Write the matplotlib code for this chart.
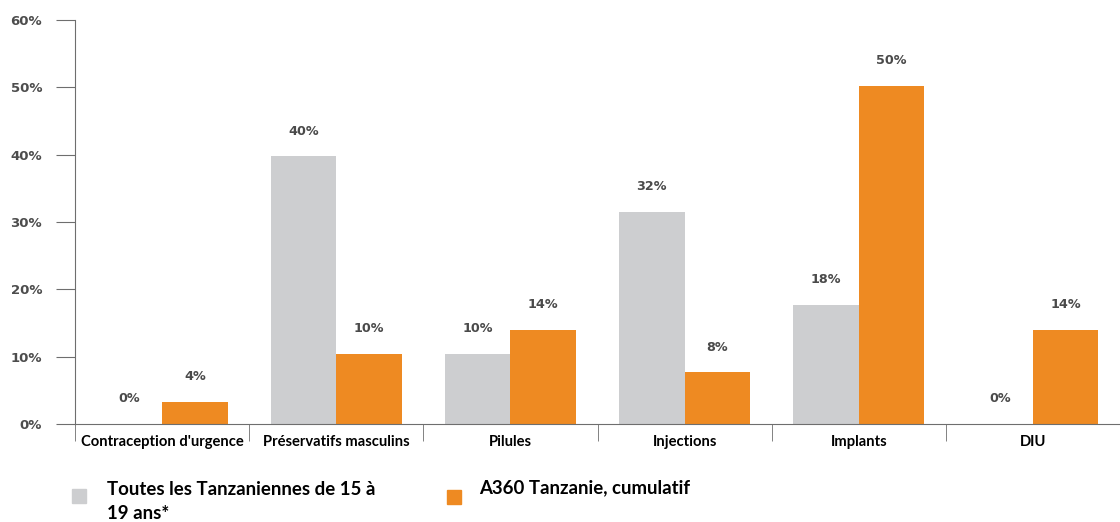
import numpy as np
import matplotlib
matplotlib.use("Agg")
import matplotlib.pyplot as plt
from matplotlib.patches import Rectangle

categories = ["Contraception d'urgence", "Préservatifs masculins", "Pilules",
              "Injections", "Implants", "DIU"]
toutes = [0, 39.8, 10.4, 31.5, 17.7, 0]
a360 = [3.3, 10.4, 14, 7.7, 50.2, 14]
toutes_labels = ["0%", "40%", "10%", "32%", "18%", "0%"]
a360_labels = ["4%", "10%", "14%", "8%", "50%", "14%"]
yticks = [0, 10, 20, 30, 40, 50, 60]

GRIS = "#cdced0"
ORANGE = "#ee8a22"
AXE = "#6e6e6e"

W, H = 1120, 522
fig = plt.figure(figsize=(W / 100, H / 100), dpi=100)
ax = fig.add_axes([75 / W, 1 - 424 / H, 1 - 75 / W, (424 - 20) / H])

x = np.arange(len(categories))
bw = 0.376
ax.bar(x - bw / 2, toutes, bw, color=GRIS)
ax.bar(x + bw / 2, a360, bw, color=ORANGE)

# etiquettes au-dessus des barres
off = 25 * 60 / 404
for i in range(len(categories)):
    ax.text(x[i] - bw / 2, toutes[i] + off, toutes_labels[i], ha="center", va="center",
            fontsize=9.2, fontweight="bold", color="#4a4a4a")
    ax.text(x[i] + bw / 2, a360[i] + off, a360_labels[i], ha="center", va="center",
            fontsize=9.2, fontweight="bold", color="#4a4a4a")

ax.set_xlim(-0.5, -0.5 + (W - 75) / 175.2)
ax.set_ylim(0, 60)

ax.spines["top"].set_visible(False)
ax.spines["right"].set_visible(False)
ax.spines["left"].set_color(AXE)
ax.spines["bottom"].set_color(AXE)

ax.set_yticks(yticks)
ax.set_yticklabels([f"{v}%" for v in yticks], fontsize=9.5, fontweight="bold", color="#4d4d4d")
ax.tick_params(axis="y", length=13.7, color=AXE, pad=10)

ax.set_xticks(x)
ax.set_xticklabels(categories, fontfamily="Lato", fontweight="bold", fontsize=10.6, color="black")
ax.set_xticks(np.arange(-0.5, len(categories)), minor=True)
ax.tick_params(axis="x", which="major", length=0, pad=8)
ax.tick_params(axis="x", which="minor", length=12, color=AXE)

# legende
fig.add_artist(Rectangle((72 / W, 1 - 503 / H), 14 / W, 14 / H, color=GRIS,
                         transform=fig.transFigure))
fig.add_artist(Rectangle((447 / W, 1 - 504 / H), 14 / W, 14 / H, color=ORANGE,
                         transform=fig.transFigure))
fig.text(107 / W, 1 - 481 / H, "Toutes les Tanzaniennes de 15 à\n19 ans*", ha="left", va="top",
         fontfamily="Lato", fontweight="bold", fontsize=13.4, linespacing=1.5)
fig.text(479 / W, 1 - 479 / H, "A360 Tanzanie, cumulatif", ha="left", va="top",
         fontfamily="Lato", fontweight="bold", fontsize=13.4)

fig.savefig("out.png", dpi=100)
